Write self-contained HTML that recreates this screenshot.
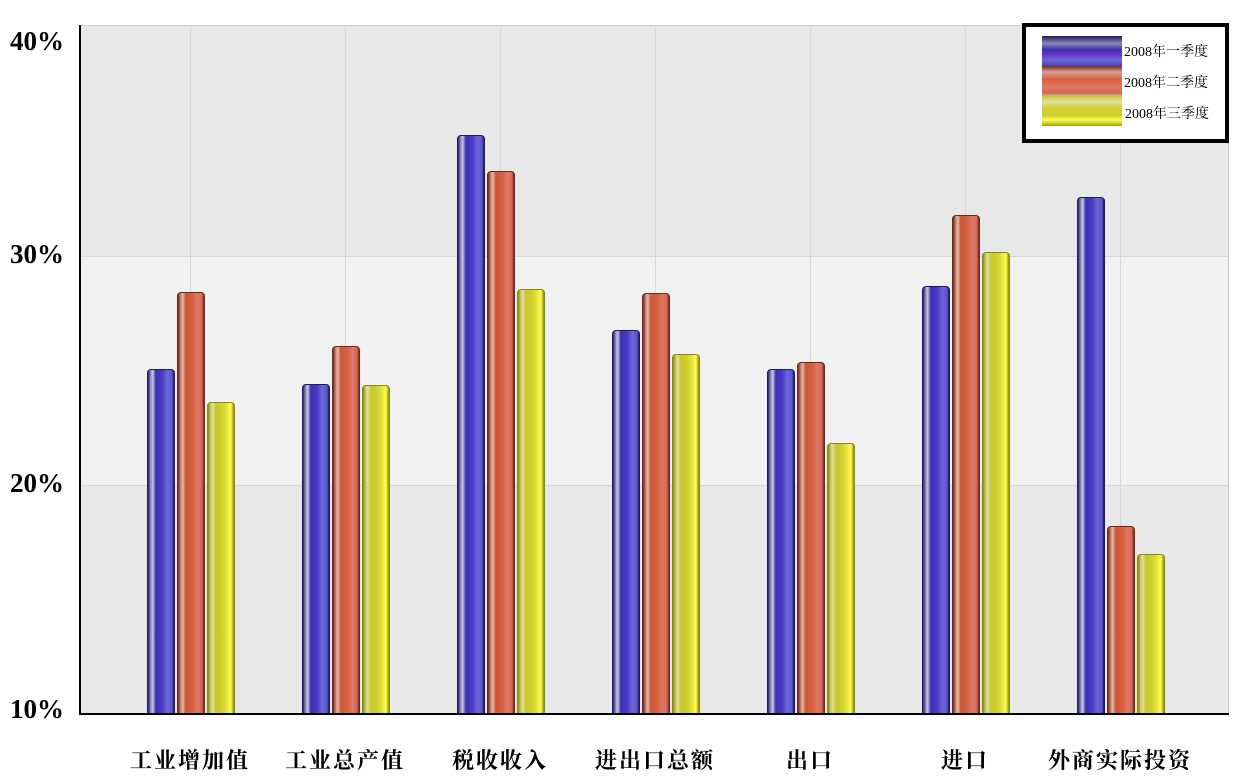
<!DOCTYPE html>
<html><head><meta charset="utf-8"><style>
body{margin:0;width:1240px;height:782px;background:#fff;position:relative;overflow:hidden;font-family:"Liberation Serif","Noto Serif CJK SC",serif}
.a{position:absolute}
.b{position:absolute;width:28px;border-radius:4px 4px 0 0;box-sizing:border-box}
.bl{background:linear-gradient(90deg,#2a2070 0,#8a88b8 10%,#c8c8e0 18%,#3a30b0 30%,#4a3ac8 55%,#6a68d8 75%,#5a58c8 92%,#201860 100%);border:1px solid #201860}
.rd{background:linear-gradient(90deg,#702818 0,#c08070 10%,#e8b8a8 18%,#c85838 30%,#d86040 55%,#e07868 75%,#d06858 92%,#702818 100%);border:1px solid #702818}
.ye{background:linear-gradient(90deg,#8a8a10 0,#c8c860 10%,#e0e0a0 18%,#c8c830 30%,#d0d030 55%,#e8e840 75%,#ffff50 88%,#8a8a10 100%);border:1px solid #8a8a10}
.yl{font-weight:bold;font-size:27px;color:#000}
.xl{font-weight:bold;font-size:22px;width:180px;text-align:center;letter-spacing:2px}
</style></head><body>
<div class="a" style="left:80px;top:25px;width:1148px;height:231px;background:#e8e8e8"></div>
<div class="a" style="left:80px;top:256px;width:1148px;height:229px;background:#f1f1f1"></div>
<div class="a" style="left:80px;top:485px;width:1148px;height:229px;background:#e8e8e8"></div>
<div class="a" style="left:80px;top:25px;width:1148px;height:1px;background:#ccc"></div>
<div class="a" style="left:1228px;top:25px;width:1px;height:689px;background:#ccc"></div>
<div class="a" style="left:80px;top:256px;width:1148px;height:1px;background:#d8d8d8"></div>
<div class="a" style="left:80px;top:485px;width:1148px;height:1px;background:#d8d8d8"></div>
<div id="g"></div>
<div class="a" style="left:79px;top:25px;width:2px;height:690px;background:#000"></div>
<div class="a" style="left:79px;top:713px;width:1150px;height:2px;background:#000"></div>
<div class="a yl" style="left:10px;top:26px">40%</div>
<div class="a yl" style="left:10px;top:239px">30%</div>
<div class="a yl" style="left:10px;top:468px">20%</div>
<div class="a yl" style="left:10px;top:694px">10%</div>
<div class="a" style="left:1022px;top:23px;width:199px;height:112px;border:4px solid #000;background:#fff"></div>
<div class="a" style="left:1042px;top:36px;width:80px;height:30px;background:linear-gradient(#201860,#8a88b8 25%,#3a30b0 45%,#6a30c8 60%,#6a68d8 80%,#4a40b0)"></div>
<div class="a" style="left:1042px;top:66px;width:80px;height:30px;background:linear-gradient(#702818,#d8a098 20%,#d86040 45%,#e07868 70%,#d06858 90%,#c8c860)"></div>
<div class="a" style="left:1042px;top:96px;width:80px;height:30px;background:linear-gradient(#c8c840,#e0e0a0 20%,#d0d030 40%,#d0d030 65%,#ffff50 80%,#a0a010)"></div>
<div class="a" style="left:1124px;top:41px;font-size:14px">2008年一季度</div>
<div class="a" style="left:1124px;top:72px;font-size:14px">2008年二季度</div>
<div class="a" style="left:1125px;top:103px;font-size:14px">2008年三季度</div>
<script>
var d=[[369,292,402],[384,346,385],[135,171,289],[330,293,354],[369,362,443],[286,215,252],[197,526,554]];
var n=["工业增加值","工业总产值","税收收入","进出口总额","出口","进口","外商实际投资"];
var h="",c=["bl","rd","ye"];
for(var i=0;i<7;i++){var cx=190+155*i;
h+='<div class="a" style="left:'+cx+'px;top:25px;width:1px;height:689px;background:#d8d8d8"></div>';
for(var j=0;j<3;j++){h+='<div class="b '+c[j]+'" style="left:'+(147+155*i+30*j)+'px;top:'+d[i][j]+'px;height:'+(714-d[i][j])+'px"></div>';}
h+='<div class="a xl" style="left:'+(cx-90)+'px;top:744px">'+n[i]+'</div>';}
document.getElementById("g").innerHTML=h;
</script>
</body></html>
